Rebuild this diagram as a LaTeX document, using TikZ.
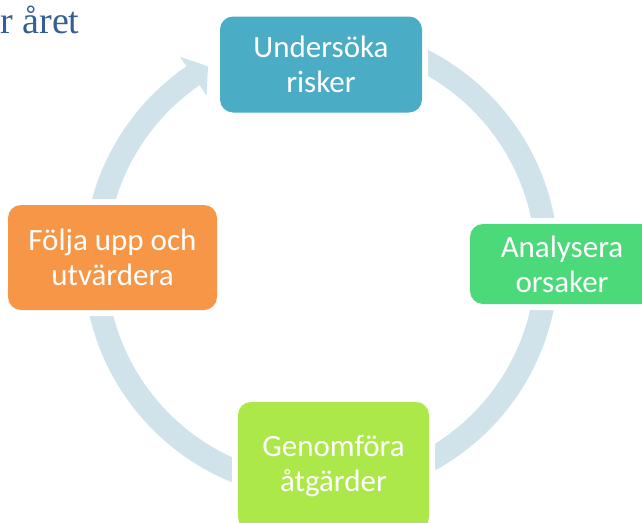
\documentclass[tikz,border=0pt]{standalone}
\usepackage{fontspec}
\setmainfont{Carlito}
\newfontfamily\titlefont{Liberation Serif}
\usepackage{tikz}
\definecolor{ringblue}{RGB}{208,226,234}
\definecolor{tealbox}{RGB}{75,172,198}
\definecolor{greenbox}{RGB}{76,217,122}
\definecolor{limebox}{RGB}{172,232,74}
\definecolor{orangebox}{RGB}{247,150,70}
\definecolor{titleblue}{RGB}{54,95,145}
\tikzset{%
  stepbox/.style  = {shape=rectangle, rounded corners=13pt,%
                     inner sep=0pt, align=center, text=white,%
                     font=\fontsize{31}{35}\selectfont,%
                     preaction={draw=white, line width=12pt}},%
  ring/.style     = {draw=ringblue, line width=23pt},%
  ringhead/.style = {fill=ringblue}%
}
\begin{document}
\begin{tikzpicture}[x=1pt,y=-1pt]
	\clip (0,0) rectangle (642,522);
	\coordinate (c) at (321,262);
	% cycle arrow behind the boxes
	\draw[ring] (c) ++(-90:226) arc[start angle=-90, end angle=235.8, radius=226];
	\fill[ringhead, shift={(c)}] (235.5:249) -- (240:226) -- (235.5:202) -- cycle;
	\node [anchor=base east, text=titleblue,
		font=\titlefont\fontsize{38}{40}\selectfont] (title) at (83,33) {r året};
	\node [stepbox, fill=tealbox, minimum width=202pt, minimum height=96pt]
		(risk) at (321,64.5) {Undersöka\\risker};
	\node [stepbox, fill=greenbox, minimum width=184pt, minimum height=80pt]
		(orsak) at (562,264) {Analysera\\orsaker};
	\node [stepbox, fill=limebox, minimum width=191pt, minimum height=128pt]
		(atgard) at (333.5,466) {Genomföra\\åtgärder};
	\node [stepbox, fill=orangebox, minimum width=209pt, minimum height=105pt]
		(folja) at (112.5,257.5) {Följa upp och\\utvärdera};
\end{tikzpicture}
\end{document}
